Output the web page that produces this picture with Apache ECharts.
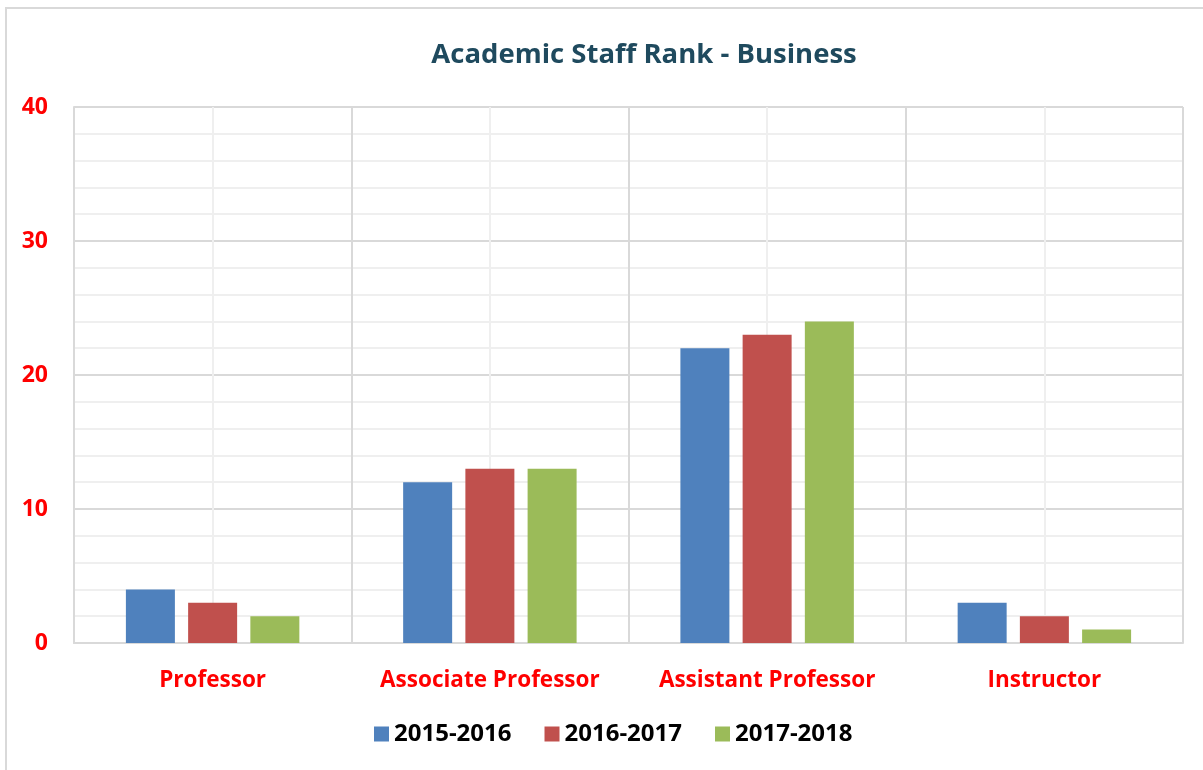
<!DOCTYPE html>
<html><head><meta charset="utf-8">
<script src="https://cdn.jsdelivr.net/npm/echarts@6/dist/echarts.min.js"></script>
<style>html,body{margin:0;padding:0;background:#fff}#c{width:1203px;height:770px}</style>
</head><body><div id="c"></div>
<script>
const categories = ['Professor', 'Associate Professor', 'Assistant Professor', 'Instructor'];
const seriesNames = ['2015-2016', '2016-2017', '2017-2018'];
const values2015 = [4, 12, 22, 3];
const values2016 = [3, 13, 23, 2];
const values2017 = [2, 13, 24, 1];
const colors = ['#4F81BD', '#C0504D', '#9BBB59'];

const chart = echarts.init(document.getElementById('c'));
const data = [values2015, values2016, values2017];
chart.setOption({
  animation: false,
  graphic: [{type: 'rect', shape: {x: 6, y: 8, width: 1300, height: 900}, style: {fill: 'none', stroke: '#d9d9d9', lineWidth: 2}, silent: true, z: -10}],
  title: {
    text: 'Academic Staff Rank - Business', left: 639, top: 36, textAlign: 'center',
    textStyle: {fontFamily: 'Open Sans', fontWeight: 'bold', fontSize: 27.5, color: '#1F4A5E'}
  },
  legend: {
    data: seriesNames, left: 369, top: 717, itemWidth: 15, itemHeight: 15, itemGap: 33,
    icon: 'rect',
    textStyle: {fontFamily: 'Open Sans', fontWeight: 'bold', fontSize: 24, color: '#000'}
  },
  grid: {left: 74, right: 20, top: 107, bottom: 127, containLabel: false},
  xAxis: [{
    type: 'category', data: categories,
    axisLine: {show: true, lineStyle: {color: '#d9d9d9', width: 2}},
    axisTick: {show: false},
    splitLine: {show: false},
    axisLabel: {interval: 0, hideOverlap: false, margin: 26, fontFamily: 'Open Sans', fontWeight: 'bold', fontSize: 22.5, color: '#FF0000'}
  }, {
    type: 'value', min: 0, max: 4, interval: 1, position: 'top',
    axisLine: {show: false}, axisTick: {show: false}, axisLabel: {show: false},
    splitLine: {show: true, lineStyle: {color: '#d9d9d9', width: 2}},
    minorTick: {show: false, splitNumber: 2},
    minorSplitLine: {show: true, lineStyle: {color: '#efefef', width: 2}}
  }],
  yAxis: {
    type: 'value', min: 0, max: 40, interval: 10,
    axisLine: {show: true, lineStyle: {color: '#d9d9d9', width: 2}},
    axisTick: {show: false},
    splitLine: {show: true, lineStyle: {color: '#d9d9d9', width: 2}},
    minorTick: {show: false, splitNumber: 5},
    minorSplitLine: {show: true, lineStyle: {color: '#efefef', width: 2}},
    axisLabel: {margin: 26, fontFamily: 'Open Sans', fontWeight: 'bold', fontSize: 23, color: '#FF0000'}
  },
  series: seriesNames.map((n, i) => ({
    name: n, type: 'bar', data: data[i], xAxisIndex: 0,
    barWidth: 49, barGap: '27%',
    itemStyle: {color: colors[i]}
  }))
});
</script></body></html>
